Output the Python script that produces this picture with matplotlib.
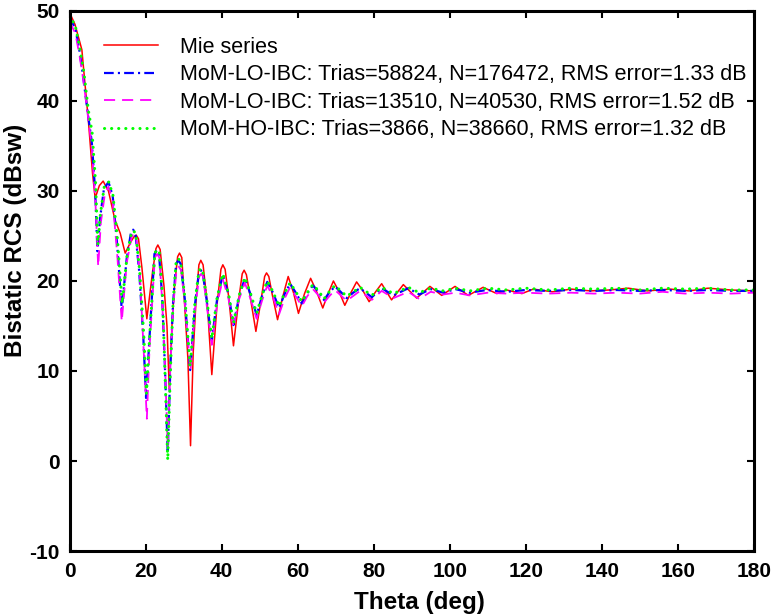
"Bistatic RCS of a coated sphere: Mie series vs. MoM-IBC solutions"

import matplotlib as mpl
import matplotlib.pyplot as plt

mpl.rcParams["font.family"] = ["Liberation Sans", "DejaVu Sans"]
mpl.rcParams["lines.scale_dashes"] = False
mpl.rcParams["axes.unicode_minus"] = False

####
# Data
#####

mie_theta = [0, 1.4, 3.2, 4.0, 4.9, 6.0, 6.7, 7.8, 8.8, 10.2, 11.9, 13.3, 14.6, 16.0,
             16.9, 17.5, 18.1, 19.0, 20.3, 21.8, 22.7, 23.2, 23.8, 24.8, 25.6, 26.2,
             26.9, 27.6, 28.4, 28.9, 29.5, 30.3, 31.1, 31.8, 32.5, 33.2, 34.0, 34.5,
             35.1, 36.2, 37.4, 38.8, 39.8, 40.3, 40.9, 41.9, 43.1, 44.5, 45.4, 45.9,
             46.5, 47.6, 49.0, 50.4, 51.3, 51.8, 52.4, 53.3, 54.7, 56.1, 57.5, 58.9,
             60.2, 61.8, 63.4, 65.0, 66.6, 68.0, 69.4, 70.9, 72.4, 74.0, 75.5, 77.2,
             78.8, 80.5, 82.1, 84.7, 87.8, 91.3, 94.8, 97.9, 101.4, 104.9, 108.8,
             112.4, 115.0, 119.0, 122.0, 127, 132, 137, 142, 147, 152, 158, 163, 168,
             174, 180]
mie_rcs = [49.8, 48.5, 45.7, 42.0, 37.9, 32.0, 29.2, 30.6, 31.1, 30.0, 26.8, 25.3, 23.1, 24.3,
           24.9, 25.1, 24.7, 21.5, 15.8, 21.0, 23.6, 24.0, 23.5, 19.5, 15.0, 8.0,
           15.0, 19.5, 22.7, 23.1, 22.6, 17.0, 11.4, 1.7, 12.0, 17.5, 21.8, 22.3,
           21.8, 17.5, 9.6, 17.5, 21.3, 21.8, 21.3, 18.0, 12.8, 18.0, 20.8, 21.2,
           20.7, 18.0, 14.4, 18.0, 20.5, 20.9, 20.5, 18.5, 15.7, 18.3, 20.5, 18.7,
           16.4, 18.6, 20.3, 18.8, 17.0, 18.6, 20.0, 18.8, 17.3, 18.7, 19.9, 18.9,
           17.7, 18.8, 19.7, 17.9, 19.6, 18.1, 19.4, 18.4, 19.4, 18.4, 19.3,
           18.6, 19.0, 18.6, 19.1, 18.8, 19.1, 18.9, 19.0, 19.2, 18.9, 19.1, 18.9, 19.2,
           19.0, 18.9]

lo1_theta = [0, 1.5, 2.6, 3.6, 4.8, 5.8, 6.7, 7.3, 8.0, 9.0, 10.2, 11.3, 12.5, 13.7, 15.0,
             16.1, 16.7, 17.3, 18.3, 19.4, 20.1, 20.9, 22.3, 22.9, 23.5, 24.3, 25.1,
             25.8, 26.5, 27.2, 28.0, 28.6, 29.2, 30.3, 31.7, 33.0, 34.0, 34.5, 35.0,
             36.0, 37.4, 38.8, 40.3, 41.8, 43.1, 44.6, 46.1, 47.6, 49.2, 50.6, 52.0,
             53.5, 55.1, 56.5, 58.0, 59.5, 61.1, 62.5, 64.0, 65.5, 66.9, 68.3, 69.8,
             71.3, 72.9, 74.6, 76.4, 79.5, 82.1, 85.2, 89.1, 92.0, 95.0, 98.3, 101.5,
             105.3, 109.7, 115, 120, 126, 132, 138, 144, 150, 156, 162, 168, 174, 180]
lo1_rcs = [49.3, 48.0, 45.5, 42.5, 38.5, 35.5, 30.0, 23.3, 27.0, 30.2, 31.0, 29.5, 24.0, 16.8, 22.5,
           25.3, 25.7, 25.3, 21.0, 13.5, 7.0, 13.0, 23.0, 23.4, 23.0, 18.5, 10.0,
           0.9, 10.5, 17.5, 21.9, 22.3, 21.9, 18.0, 10.1, 17.5, 20.9, 21.2, 20.9,
           18.0, 13.4, 18.0, 20.7, 18.5, 15.1, 18.3, 20.3, 18.5, 16.2, 18.3, 19.9,
           18.7, 17.0, 18.5, 19.7, 18.7, 17.5, 18.6, 19.5, 18.8, 17.9, 18.7, 19.4,
           18.8, 18.1, 18.7, 19.2, 18.2, 19.2, 18.4, 19.2, 18.5, 19.1, 18.7, 19.1,
           18.7, 19.0, 18.8, 19.0, 18.9, 19.0, 18.9, 19.0, 18.9, 19.0, 18.9, 19.0, 18.9, 18.9]

lo2_theta = [0, 1.5, 2.6, 3.6, 4.8, 5.8, 6.8, 7.5, 8.2, 9.2, 10.2, 11.3, 12.5, 13.7, 15.0,
             16.3, 16.9, 17.5, 18.5, 19.5, 20.3, 21.0, 22.4, 23.0, 23.6, 24.3, 25.1,
             25.8, 26.5, 27.2, 28.1, 28.7, 29.3, 30.3, 31.8, 33.0, 34.1, 34.6, 35.1,
             36.0, 37.4, 38.8, 40.3, 41.8, 43.1, 44.6, 46.1, 47.6, 49.2, 50.6, 52.0,
             53.5, 55.1, 56.5, 58.0, 59.5, 61.1, 62.5, 64.0, 65.5, 66.9, 68.3, 69.8,
             72.9, 76.4, 79.5, 82.1, 85.2, 89.1, 92.0, 95.0, 98.3, 101.5, 105.3, 110,
             115, 120, 126, 132, 138, 144, 150, 156, 162, 168, 174, 180]
lo2_rcs = [48.8, 47.5, 45.0, 42.3, 38.3, 35.0, 28.5, 21.6, 26.5, 29.5, 30.5, 29.0, 23.0, 15.5, 22.0,
           24.9, 25.3, 24.9, 20.5, 12.0, 4.7, 12.5, 22.6, 23.0, 22.6, 18.0, 10.5,
           1.5, 10.5, 17.0, 21.2, 21.6, 21.2, 17.5, 10.0, 17.0, 20.5, 20.8, 20.5,
           17.5, 12.9, 17.5, 20.2, 18.0, 14.9, 18.0, 19.8, 18.0, 15.8, 17.8, 19.5,
           18.2, 16.3, 18.0, 19.3, 18.3, 17.2, 18.3, 19.1, 18.4, 17.6, 18.3, 19.0,
           17.8, 18.9, 17.9, 18.9, 18.1, 18.8, 18.0, 18.8, 18.5, 18.7, 18.4, 18.7,
           18.6, 18.7, 18.6, 18.7, 18.6, 18.7, 18.6, 18.8, 18.6, 18.7, 18.6, 18.7]

ho_theta = [0, 1.5, 2.6, 3.7, 4.9, 5.9, 6.8, 7.4, 8.1, 9.1, 10.3, 11.4, 12.6, 13.8, 15.1,
            16.2, 16.8, 17.4, 18.4, 19.5, 20.2, 21.0, 22.4, 23.0, 23.6, 24.4, 25.1,
            25.8, 26.5, 27.2, 28.0, 28.6, 29.2, 30.3, 31.7, 33.0, 34.0, 34.5, 35.0,
            36.0, 37.4, 38.8, 40.3, 41.8, 43.1, 44.6, 46.1, 47.6, 49.2, 50.6, 52.0,
            53.5, 55.1, 56.5, 58.0, 59.5, 61.1, 62.5, 64.0, 65.5, 66.9, 68.3, 69.8,
            72.9, 76.4, 79.5, 82.1, 85.2, 89.1, 92.0, 95.0, 98.3, 101.5, 105.3, 110,
            115, 120, 126, 132, 138, 144, 150, 156, 162, 168, 174, 180]
ho_rcs = [49.5, 48.3, 46.0, 43.3, 39.0, 36.5, 31.0, 24.0, 27.5, 30.5, 31.0, 29.5, 24.5, 17.5, 22.8,
          25.2, 25.6, 25.2, 21.2, 14.0, 7.5, 13.5, 23.1, 23.5, 23.1, 18.5, 9.5,
          0.1, 10.0, 17.5, 22.1, 22.5, 22.1, 18.2, 10.5, 17.8, 21.1, 21.4, 21.1,
          18.2, 13.6, 18.2, 20.8, 18.6, 15.3, 18.4, 20.4, 18.6, 16.4, 18.4, 20.0,
          18.8, 17.2, 18.6, 19.8, 18.8, 17.7, 18.7, 19.6, 18.9, 18.0, 18.8, 19.5,
          18.3, 19.3, 18.4, 19.3, 18.6, 19.3, 18.7, 19.2, 18.9, 19.2, 18.9, 19.2,
          19.0, 19.2, 19.0, 19.2, 19.1, 19.2, 19.0, 19.2, 19.1, 19.2, 19.0, 19.0]

labels = [
    "Mie series",
    "MoM-LO-IBC: Trias=58824, N=176472, RMS error=1.33 dB",
    "MoM-LO-IBC: Trias=13510, N=40530, RMS error=1.52 dB",
    "MoM-HO-IBC: Trias=3866, N=38660, RMS error=1.32 dB",
]

xticks = list(range(0, 181, 20))
yticks = list(range(-10, 51, 10))

#####
# Plot
#####

fig = plt.figure(figsize=(7.77, 6.14), dpi=100)
ax = fig.add_axes([0.0897, 0.1026, 0.8803, 0.8795])

ax.plot(mie_theta, mie_rcs, color="#ff0000", lw=1.1, label=labels[0])
ax.plot(lo1_theta, lo1_rcs, color="#0000ff", lw=1.6,
        dashes=(7, 3, 1.5, 3), label=labels[1])
ax.plot(lo2_theta, lo2_rcs, color="#ff00ff", lw=1.3,
        dashes=(8, 5), label=labels[2])
ax.plot(ho_theta, ho_rcs, color="#00ff00", lw=2.2,
        dashes=(0.1, 5), dash_capstyle="round", label=labels[3])

# Axes limits, ticks and frame
ax.set_xlim(0, 180)
ax.set_ylim(-10, 50)
ax.set_xticks(xticks)
ax.set_yticks(yticks)
ax.tick_params(direction="in", top=True, right=True, length=5, width=1.5,
               labelsize=15)
ax.tick_params(axis="x", pad=8)
ax.tick_params(axis="y", pad=7)
for label in ax.get_xticklabels() + ax.get_yticklabels():
    label.set_fontweight("bold")
for spine in ax.spines.values():
    spine.set_linewidth(2.2)

# Axis titles, placed where the reference has them
ax.set_xlabel("Theta (deg)", fontsize=17.5, fontweight="bold")
ax.set_ylabel("Bistatic RCS (dBsw)", fontsize=17.5, fontweight="bold")
ax.xaxis.set_label_coords(0.512, -0.074)
ax.yaxis.set_label_coords(-0.062, 0.576)

ax.legend(loc="upper left", bbox_to_anchor=(0.05, 0.952), frameon=False,
          fontsize=15.5, handlelength=2.5, handletextpad=1.05, labelspacing=0.3,
          borderpad=0, borderaxespad=0)

fig.savefig("out.png", dpi=100)
